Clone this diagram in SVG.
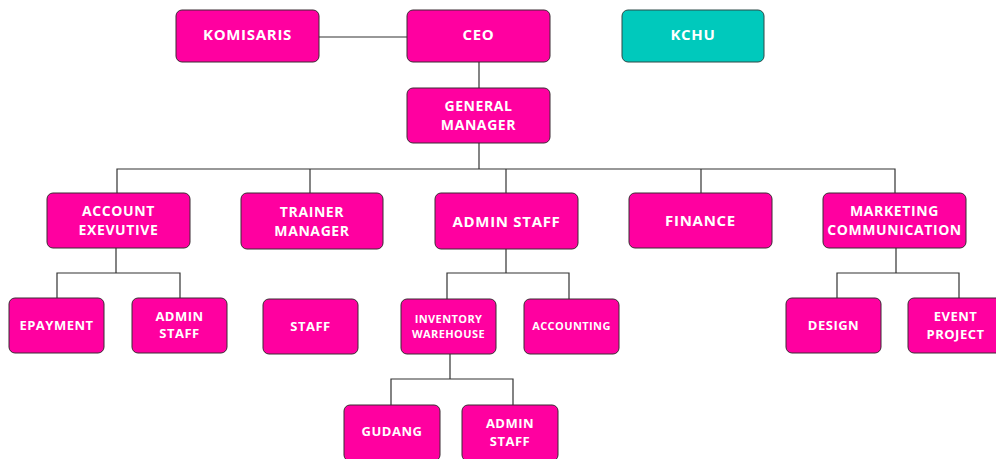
<svg xmlns="http://www.w3.org/2000/svg" width="996" height="459" viewBox="0 0 996 459">
  <style>
    .box { fill: #ff00a0; stroke: #3a2a33; stroke-width: 1; }
    .teal { fill: #00c9bc; stroke: #2c4a48; stroke-width: 1; }
    .lbl { font-family: "Open Sans", "Liberation Sans", sans-serif; font-weight: 700; fill: #ffffff; text-anchor: middle; dominant-baseline: central; font-size: 14px; letter-spacing: 0.6px; }
    .big { font-size: 15px; letter-spacing: 0.7px; }
    .sm { font-size: 13px; letter-spacing: 0.5px; }
    .xs { font-size: 11px; letter-spacing: 0.4px; }
    .conn { fill: none; stroke: #333333; stroke-width: 1.2; }
  </style>
  <rect width="996" height="459" fill="#ffffff"/>

  <g id="connectors" class="conn">
    <path d="M319 37 H407"/>
    <path d="M479 62 V88"/>
    <path d="M479 143 V169"/>
    <path d="M117 193 V169 H895 V193"/>
    <path d="M310 169 V193"/>
    <path d="M506 169 V193"/>
    <path d="M701 169 V193"/>
    <path d="M116 248 V273 M57 298 V273 H180 V298"/>
    <path d="M506 249 V273 M447 299 V273 H569 V299"/>
    <path d="M896 248 V273 M837 298 V273 H959 V298"/>
    <path d="M450 354 V379 M391 405 V379 H513 V405"/>
  </g>

  <g id="komisaris"><rect class="box" x="176" y="10" width="143" height="52" rx="6"/><text class="lbl big" x="247.5" y="34">KOMISARIS</text></g>
  <g id="ceo"><rect class="box" x="407" y="10" width="143" height="52" rx="6"/><text class="lbl big" x="478.5" y="34">CEO</text></g>
  <g id="kchu"><rect class="teal" x="622" y="10" width="142" height="52" rx="6"/><text class="lbl big" x="693" y="34">KCHU</text></g>
  <g id="general-manager"><rect class="box" x="407" y="88" width="143" height="55" rx="6"/><text class="lbl" x="478.5" y="105">GENERAL</text><text class="lbl" x="478.5" y="124">MANAGER</text></g>

  <g id="account-executive"><rect class="box" x="47" y="193" width="143" height="55" rx="6"/><text class="lbl" x="118.5" y="210">ACCOUNT</text><text class="lbl" x="118.5" y="229">EXEVUTIVE</text></g>
  <g id="trainer-manager"><rect class="box" x="241" y="193" width="142" height="56" rx="6"/><text class="lbl" x="312" y="211">TRAINER</text><text class="lbl" x="312" y="230">MANAGER</text></g>
  <g id="admin-staff"><rect class="box" x="435" y="193" width="143" height="56" rx="6"/><text class="lbl big" x="506.5" y="221">ADMIN STAFF</text></g>
  <g id="finance"><rect class="box" x="629" y="193" width="143" height="55" rx="6"/><text class="lbl big" x="700.5" y="220">FINANCE</text></g>
  <g id="marketing-communication"><rect class="box" x="823" y="193" width="143" height="55" rx="6"/><text class="lbl" x="894.5" y="210">MARKETING</text><text class="lbl" x="894.5" y="229">COMMUNICATION</text></g>

  <g id="epayment"><rect class="box" x="9" y="298" width="95" height="55" rx="6"/><text class="lbl sm" x="56.5" y="325">EPAYMENT</text></g>
  <g id="ae-admin-staff"><rect class="box" x="132" y="298" width="95" height="55" rx="6"/><text class="lbl sm" x="179.5" y="316">ADMIN</text><text class="lbl sm" x="179.5" y="333">STAFF</text></g>
  <g id="staff"><rect class="box" x="263" y="299" width="95" height="55" rx="6"/><text class="lbl sm" x="310.5" y="326">STAFF</text></g>
  <g id="inventory-warehouse"><rect class="box" x="401" y="299" width="95" height="55" rx="6"/><text class="lbl xs" x="448.5" y="318">INVENTORY</text><text class="lbl xs" x="448.5" y="333">WAREHOUSE</text></g>
  <g id="accounting"><rect class="box" x="524" y="299" width="95" height="55" rx="6"/><text class="lbl xs" x="571.5" y="325">ACCOUNTING</text></g>
  <g id="design"><rect class="box" x="786" y="298" width="95" height="55" rx="6"/><text class="lbl sm" x="833.5" y="325">DESIGN</text></g>
  <g id="event-project"><rect class="box" x="908" y="298" width="95" height="55" rx="6"/><text class="lbl sm" x="955.5" y="316">EVENT</text><text class="lbl sm" x="955.5" y="334">PROJECT</text></g>

  <g id="gudang"><rect class="box" x="344" y="405" width="96" height="56" rx="6"/><text class="lbl sm" x="392" y="431">GUDANG</text></g>
  <g id="warehouse-admin-staff"><rect class="box" x="462" y="405" width="96" height="56" rx="6"/><text class="lbl sm" x="510" y="423">ADMIN</text><text class="lbl sm" x="510" y="441">STAFF</text></g>
</svg>
